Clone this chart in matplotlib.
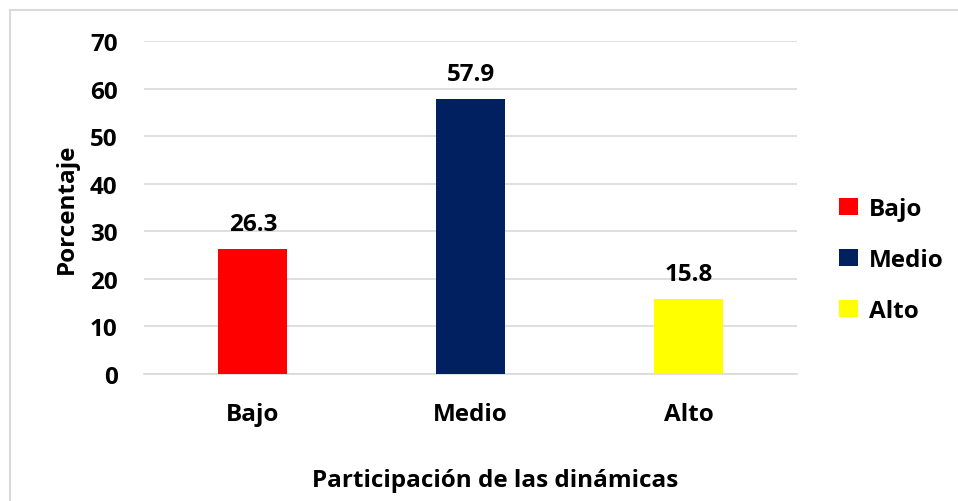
import matplotlib.pyplot as plt
from matplotlib.lines import Line2D
from matplotlib.patches import Patch

categories = ["Bajo", "Medio", "Alto"]
values = [26.3, 57.9, 15.8]
colors = ["#ff0000", "#002060", "#ffff00"]
y_ticks = [0, 10, 20, 30, 40, 50, 60, 70]

plt.rcParams["font.family"] = ["Open Sans", "DejaVu Sans"]
plt.rcParams["font.weight"] = "bold"

fs = 17.5

fig = plt.figure(figsize=(9.58, 5.02), dpi=100)
ax = fig.add_axes([0.1503, 0.253, 0.682, 0.663])

x = range(len(categories))
ax.bar(x, values, width=0.317, color=colors, zorder=3)

for xi, v in zip(x, values):
    ax.annotate(f"{v:.1f}", (xi, v), xytext=(0, 9), textcoords="offset points",
                ha="center", va="bottom", fontsize=fs, fontweight="bold")

ax.set_xlim(-0.5, 2.5)
ax.set_ylim(0, 70)
ax.set_yticks(y_ticks)
ax.set_xticks(list(x))
ax.set_xticklabels(categories)
ax.tick_params(axis="both", length=0, labelsize=fs)
ax.tick_params(axis="x", pad=20)
ax.tick_params(axis="y", pad=19)
for lbl in ax.get_xticklabels() + ax.get_yticklabels():
    lbl.set_fontweight("bold")

ax.grid(axis="y", color="#d9d9d9", linewidth=1.2, zorder=0)
for side in ["top", "right", "left"]:
    ax.spines[side].set_visible(False)
ax.spines["bottom"].set_color("#d9d9d9")
ax.spines["bottom"].set_linewidth(1.2)

ax.set_ylabel("Porcentaje", fontsize=fs, fontweight="bold", labelpad=8)
ax.set_xlabel("Participación de las dinámicas", fontsize=fs, fontweight="bold")
ax.xaxis.set_label_coords(0.537, -0.283)

handles = [Patch(facecolor=c, label=n) for c, n in zip(colors, categories)]
fig.legend(handles=handles, loc="center left", bbox_to_anchor=(0.866, 0.48),
           frameon=False, handlelength=0.75, handleheight=0.75,
           handletextpad=0.45, labelspacing=1.11, borderaxespad=0,
           prop={"weight": "bold", "size": fs})

# chart border (light grey, top and left visible)
fig.add_artist(Line2D([10 / 958, 1], [1 - 11 / 502, 1 - 11 / 502], color="#d9d9d9", linewidth=1.5))
fig.add_artist(Line2D([10 / 958, 10 / 958], [0, 1 - 11 / 502], color="#d9d9d9", linewidth=1.5))

fig.savefig("out.png", dpi=100)
